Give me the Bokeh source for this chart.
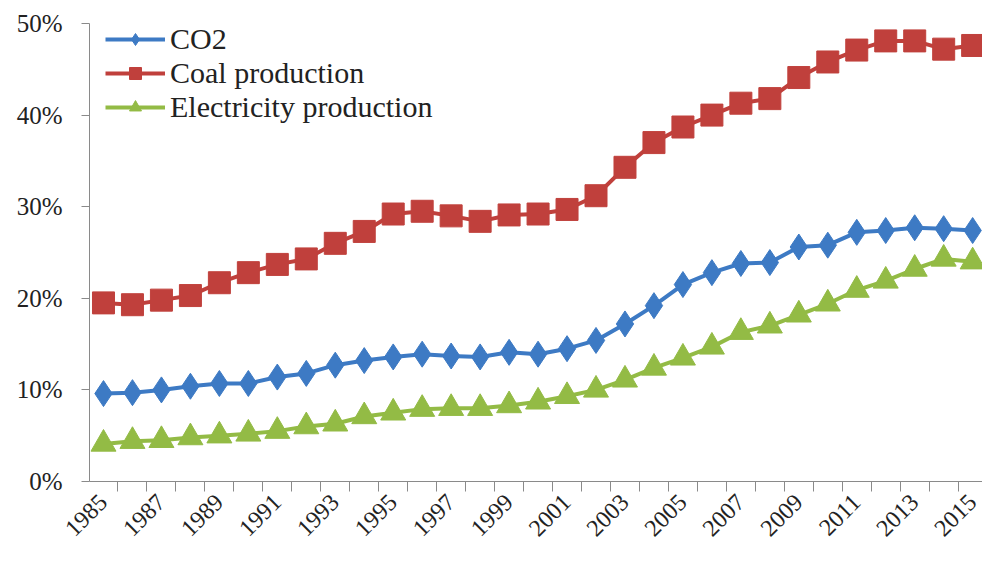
import math
from bokeh.plotting import figure
from bokeh.models import Range1d, FixedTicker, PrintfTickFormatter, Legend, LegendItem
from bokeh.embed import file_html
from bokeh.resources import INLINE

years = list(range(1985, 2016))
co2 = [9.6, 9.7, 10.0, 10.4, 10.7, 10.7, 11.4, 11.8, 12.7, 13.2, 13.6, 13.9, 13.7, 13.6, 14.1,
       13.9, 14.5, 15.4, 17.2, 19.2, 21.5, 22.8, 23.8, 23.9, 25.6, 25.8, 27.2, 27.4, 27.7, 27.6, 27.4]
coal = [19.5, 19.3, 19.8, 20.3, 21.7, 22.8, 23.7, 24.3, 26.0, 27.3, 29.2, 29.5, 29.0, 28.4, 29.1,
        29.2, 29.7, 31.2, 34.3, 37.0, 38.7, 40.0, 41.3, 41.8, 44.1, 45.8, 47.1, 48.1, 48.1, 47.2, 47.6]
elec = [4.1, 4.4, 4.5, 4.8, 5.0, 5.2, 5.5, 6.0, 6.3, 7.1, 7.5, 7.9, 8.0, 8.0, 8.3,
        8.7, 9.3, 10.0, 11.1, 12.4, 13.5, 14.7, 16.3, 17.0, 18.2, 19.4, 20.9, 21.9, 23.2, 24.3, 24.0]
series_names = ["CO2", "Coal production", "Electricity production"]
label_years = [y for y in years if y % 2 == 1]
y_ticks = [0, 10, 20, 30, 40, 50]

BLUE = "#3d7ac4"
RED = "#c0403c"
GREEN = "#93bb45"
FONT = "Liberation Serif"
TEXT = "#222222"
AXIS = "#8a8a8a"

p = figure(width=982, height=547, output_backend="svg", toolbar_location=None,
           x_range=Range1d(1984.517, 2015.34), y_range=Range1d(0, 50),
           min_border_left=89, min_border_right=0, min_border_top=23, min_border_bottom=66)
p.outline_line_color = None
p.grid.visible = False
p.background_fill_color = "white"

r1l = p.line(years, co2, line_color=BLUE, line_width=4)
r1m = p.scatter(years, co2, marker="diamond", size=26, fill_color=BLUE, line_color=BLUE)
r2l = p.line(years, coal, line_color=RED, line_width=4)
r2m = p.scatter(years, coal, marker="square", size=22, fill_color=RED, line_color=RED)
r3l = p.line(years, elec, line_color=GREEN, line_width=4)
r3m = p.scatter(years, elec, marker="triangle", size=25, fill_color=GREEN, line_color=GREEN)

legend = Legend(items=[LegendItem(label=series_names[0], renderers=[r1l, r1m]),
                       LegendItem(label=series_names[1], renderers=[r2l, r2m]),
                       LegendItem(label=series_names[2], renderers=[r3l, r3m])],
                location=(16, 357), padding=0, margin=0, spacing=-2,
                glyph_width=60, glyph_height=30, label_standoff=5,
                border_line_color=None, background_fill_alpha=0,
                label_text_font=FONT, label_text_font_size="30px", label_text_color=TEXT)
p.add_layout(legend)

xa = p.xaxis[0]
xa.ticker = FixedTicker(ticks=label_years, minor_ticks=[1984.5 + i for i in range(32)])
xa.major_label_orientation = math.pi / 4
xa.major_tick_out = 0
xa.major_tick_in = 0
xa.minor_tick_out = 10
xa.minor_tick_in = 0
xa.axis_line_color = AXIS
xa.minor_tick_line_color = AXIS
xa.major_label_text_font = FONT
xa.major_label_text_font_size = "24px"
xa.major_label_text_color = TEXT
xa.major_label_standoff = 7

ya = p.yaxis[0]
ya.ticker = FixedTicker(ticks=y_ticks)
ya.formatter = PrintfTickFormatter(format="%d%%")
ya.major_tick_out = 8
ya.major_tick_in = 0
ya.minor_tick_line_color = None
ya.axis_line_color = AXIS
ya.major_tick_line_color = AXIS
ya.major_label_text_font = FONT
ya.major_label_text_font_size = "25px"
ya.major_label_text_color = TEXT
ya.major_label_standoff = 19

open("out.html", "w").write(file_html(p, INLINE))
